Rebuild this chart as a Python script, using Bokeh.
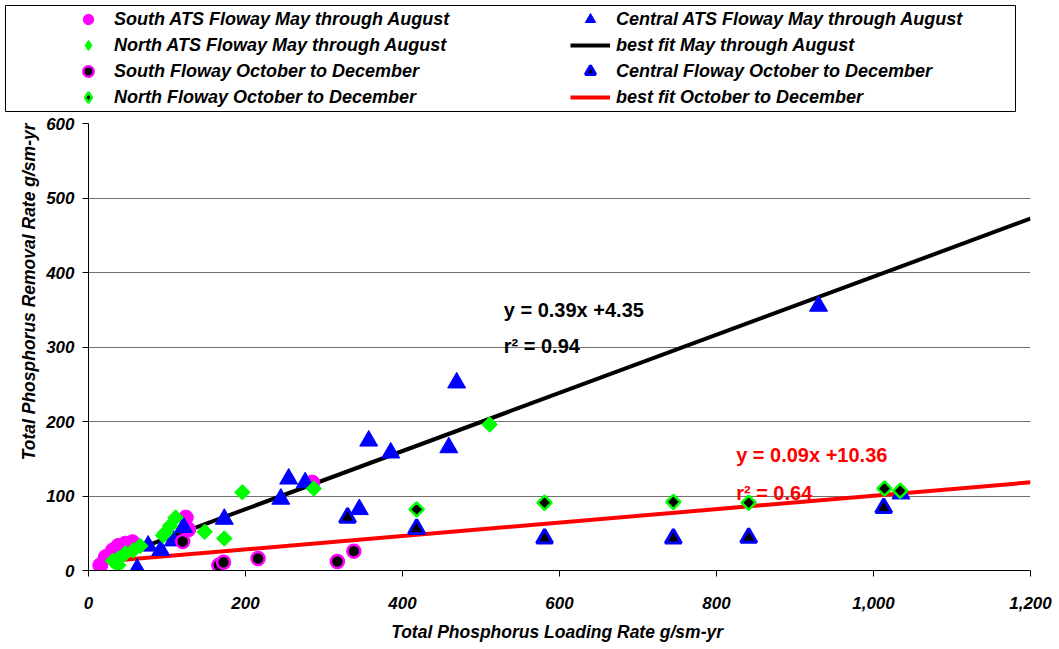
import numpy as np
from bokeh.plotting import figure
from bokeh.models import (Legend, LegendItem, Label, NumeralTickFormatter,
                          FixedTicker, Range1d, Title)
from bokeh.layouts import column
from bokeh.embed import file_html
from bokeh.resources import INLINE

# ---------------- data ----------------
south_ats_x = [15, 22, 31, 38, 47, 56, 124, 127, 285]
south_ats_y = [7, 18, 27, 33, 36, 38, 71, 55, 118]

central_ats_x = [62, 76, 92, 108, 121, 173, 245, 255, 276, 345, 357, 385, 459, 469, 930, 1035]
central_ats_y = [2, 33, 27, 40, 58, 69, 96, 123, 118, 82, 174, 158, 165, 252, 355, 103]

north_ats_x = [31, 38, 38, 47, 57, 66, 95, 98, 104, 111, 148, 173, 196, 287, 511]
north_ats_y = [13, 7, 16, 23, 27, 33, 47, 51, 60, 71, 52, 43, 105, 110, 196]

south_oct_x = [120, 166, 172, 216, 317, 338]
south_oct_y = [39, 7, 11, 16, 12, 26]

central_oct_x = [330, 418, 581, 745, 841, 1013]
central_oct_y = [71, 56, 43, 43, 44, 84]

north_oct_x = [418, 581, 745, 841, 1014, 1034]
north_oct_y = [82, 91, 92, 91, 110, 107]

# best-fit lines: slope, intercept, r^2 and x extent
fit_may = (0.39, 4.35, 0.94)
fit_may_x = [15, 1200]
fit_oct = (0.09, 10.36, 0.64)
fit_oct_x = [45, 1200]

x_ticks = [0, 200, 400, 600, 800, 1000, 1200]
y_ticks = [0, 100, 200, 300, 400, 500, 600]
grid_ticks = [100, 200, 300, 400, 500]

labels = {
    "south_ats": "South ATS Floway May through August",
    "north_ats": "North ATS Floway May through August",
    "south_oct": "South Floway October to December",
    "north_oct": "North Floway October to December",
    "central_ats": "Central ATS Floway May through August",
    "fit_may": "best fit May through August",
    "central_oct": "Central Floway October to December",
    "fit_oct": "best fit October to December",
}
x_title = "Total Phosphorus Loading Rate  g/sm-yr"
y_title = "Total Phosphorus Removal Rate g/sm-yr"

# ---------------- styles ----------------
MAG = "#FF00FF"
GRN = "#00FF00"
BLU = "#0000FF"
RED = "#FF0000"
FONT = "Liberation Sans"

styles = {
    "south_ats": dict(marker="circle", size=15, fill_color=MAG, line_color=MAG, line_width=1),
    "central_ats": dict(marker="triangle", size=18, fill_color=BLU, line_color=BLU, line_width=1),
    "north_ats": dict(marker="square", angle=np.pi / 4, size=11, fill_color=GRN, line_color=GRN, line_width=1),
    "south_oct": dict(marker="circle", size=13, fill_color="black", line_color=MAG, line_width=2.5),
    "central_oct": dict(marker="triangle", size=16, fill_color="black", line_color=BLU, line_width=3),
    "north_oct": dict(marker="square", angle=np.pi / 4, size=10, fill_color="black", line_color=GRN, line_width=2.5),
}
# the legend swatches do not rotate markers, so the diamonds use the diamond marker there
legend_marker = {"north_ats": "diamond", "north_oct": "diamond"}
line_styles = {
    "fit_may": dict(line_color="black", line_width=4),
    "fit_oct": dict(line_color=RED, line_width=4),
}

series = {
    "south_ats": (south_ats_x, south_ats_y),
    "central_ats": (central_ats_x, central_ats_y),
    "north_ats": (north_ats_x, north_ats_y),
    "south_oct": (south_oct_x, south_oct_y),
    "central_oct": (central_oct_x, central_oct_y),
    "north_oct": (north_oct_x, north_oct_y),
}

m_s, m_b, m_r2 = fit_may
o_s, o_b, o_r2 = fit_oct
fit_lines = {
    "fit_may": (fit_may_x, [m_s * x + m_b for x in fit_may_x]),
    "fit_oct": (fit_oct_x, [o_s * x + o_b for x in fit_oct_x]),
}

# ---------------- main plot ----------------
p = figure(width=1055, height=535, x_range=Range1d(0, 1200), y_range=Range1d(0, 600),
           output_backend="svg", toolbar_location=None,
           min_border_left=88, min_border_right=25, min_border_top=11, min_border_bottom=77)
p.frame_align = False
p.outline_line_color = None
p.background_fill_color = "white"
p.border_fill_color = "white"
p.xgrid.grid_line_color = None
p.ygrid.ticker = FixedTicker(ticks=grid_ticks)
p.ygrid.grid_line_color = "#707070"
p.ygrid.grid_line_width = 1

p.xaxis.ticker = FixedTicker(ticks=x_ticks)
p.yaxis.ticker = FixedTicker(ticks=y_ticks)
p.xaxis.formatter = NumeralTickFormatter(format="0,0")
for ax in (p.xaxis, p.yaxis):
    ax.axis_line_color = "black"
    ax.axis_line_width = 1
    ax.major_tick_line_color = "black"
    ax.major_tick_in = 0
    ax.major_tick_out = 6
    ax.minor_tick_line_color = None
    ax.major_label_text_font = FONT
    ax.major_label_text_font_style = "bold italic"
    ax.major_label_text_font_size = "17px"
    ax.major_label_text_color = "black"
p.xaxis.major_label_standoff = 20
p.yaxis.major_label_standoff = 8

p.xaxis.axis_label = x_title
p.xaxis.axis_label_text_font = FONT
p.xaxis.axis_label_text_font_style = "bold italic"
p.xaxis.axis_label_text_font_size = "17.5px"
p.xaxis.axis_label_text_color = "black"
p.xaxis.axis_label_standoff = 10

ytitle = Title(text=y_title, align="right", offset=0, text_font=FONT,
               text_font_style="bold italic", text_font_size="17.5px",
               text_color="black", standoff=10)
p.add_layout(ytitle, "left")

# fit lines (under the markers)
for key, (xs, ys) in fit_lines.items():
    p.line(xs, ys, **line_styles[key])

for key, (xs, ys) in series.items():
    p.scatter(xs, ys, **styles[key])

# equation labels
eq_font = dict(text_font=FONT, text_font_style="bold", text_font_size="20px",
               text_baseline="alphabetic")
p.add_layout(Label(x=529, y=349, text=f"y = {m_s}x +{m_b}", text_color="black", **eq_font))
p.add_layout(Label(x=529, y=301, text=f"r\u00b2 = {m_r2}", text_color="black", **eq_font))
p.add_layout(Label(x=825, y=155, text=f"y = {o_s}x +{o_b}", text_color=RED, **eq_font))
p.add_layout(Label(x=825, y=104, text=f"r\u00b2 = {o_r2}", text_color=RED, **eq_font))

# ---------------- legend strip: its frame outline is the legend box ----------------
# (the strip's ranges lie outside the data, so its renderers only feed the legend)
lf = figure(width=1020, height=112, x_range=Range1d(-2, -1), y_range=Range1d(-2, -1),
            output_backend="svg", toolbar_location=None,
            min_border_left=5, min_border_right=5, min_border_top=5, min_border_bottom=1,
            x_axis_location=None, y_axis_location=None)
lf.frame_align = False
lf.grid.visible = False
lf.outline_line_color = "black"
lf.outline_line_width = 1

leg_r = {}
for key, (xs, ys) in series.items():
    st = dict(styles[key])
    if key in legend_marker:
        st["marker"] = legend_marker[key]
        st.pop("angle", None)
    leg_r[key] = lf.scatter(xs, ys, **st)
for key, (xs, ys) in fit_lines.items():
    leg_r[key] = lf.line(xs, ys, **line_styles[key])

leg_common = dict(glyph_width=40, glyph_height=26, label_height=26, spacing=0,
                  padding=0, margin=0, label_standoff=6,
                  label_text_font=FONT, label_text_font_style="bold italic",
                  label_text_font_size="18px", label_text_color="black",
                  border_line_color=None, background_fill_alpha=0)
col1 = ["south_ats", "north_ats", "south_oct", "north_oct"]
col2 = ["central_ats", "fit_may", "central_oct", "fit_oct"]
leg1 = Legend(items=[LegendItem(label=labels[k], renderers=[leg_r[k]]) for k in col1],
              location=(63, 1), **leg_common)
leg2 = Legend(items=[LegendItem(label=labels[k], renderers=[leg_r[k]]) for k in col2],
              location=(565, 1), **leg_common)
lf.add_layout(leg1)
lf.add_layout(leg2)

layout = column(lf, p, spacing=0)
open("out.html", "w").write(file_html(layout, INLINE))
